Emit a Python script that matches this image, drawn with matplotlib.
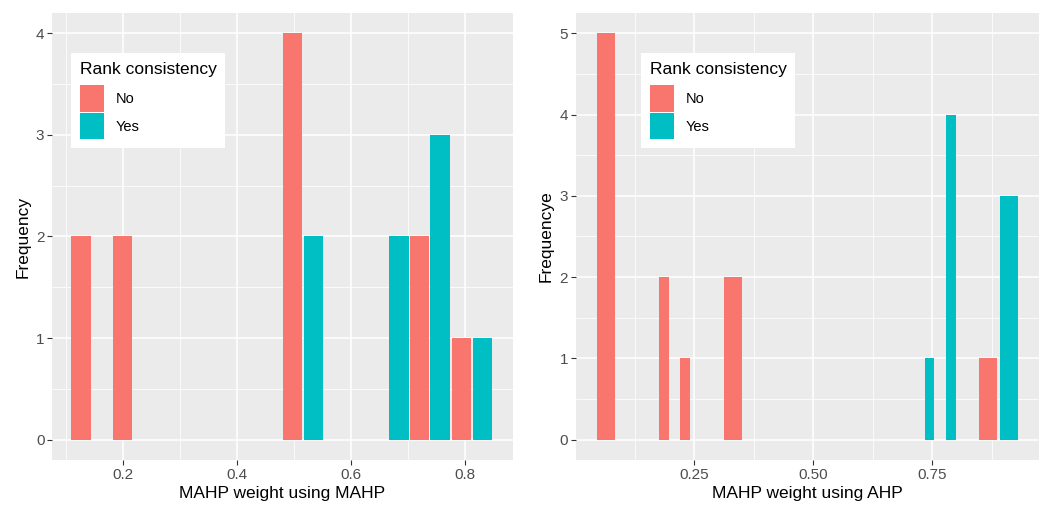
import matplotlib
matplotlib.use('Agg')
import matplotlib.pyplot as plt
from matplotlib.patches import Patch
from matplotlib.ticker import FixedLocator

plt.rcParams['font.family'] = ['Liberation Sans', 'DejaVu Sans']

# left panel: MAHP weight using MAHP
left_x = [0.127, 0.200, 0.498, 0.535, 0.685, 0.721, 0.757, 0.795, 0.831]
left_count = [2, 2, 4, 2, 2, 2, 3, 1, 1]
left_group = ['No', 'No', 'No', 'Yes', 'Yes', 'No', 'Yes', 'No', 'Yes']
left_width = [0.034] * 9

# right panel: MAHP weight using AHP
right_x = [0.064, 0.187, 0.231, 0.332, 0.744, 0.789, 0.867, 0.911]
right_count = [5, 2, 1, 2, 1, 4, 1, 3]
right_group = ['No', 'No', 'No', 'No', 'Yes', 'Yes', 'No', 'Yes']
right_width = [0.038, 0.020, 0.020, 0.038, 0.020, 0.021, 0.039, 0.039]

colors = {'No': '#F8766D', 'Yes': '#00BFC4'}


def gg_axes(ax, xlim, ylim, xmajor, xminor, ymax):
    ax.set_facecolor('#EBEBEB')
    for s in ax.spines.values():
        s.set_visible(False)
    ax.set_xlim(*xlim)
    ax.set_ylim(*ylim)
    ax.xaxis.set_major_locator(FixedLocator(xmajor))
    ax.xaxis.set_minor_locator(FixedLocator(xminor))
    ax.yaxis.set_major_locator(FixedLocator(list(range(0, ymax + 1))))
    ax.yaxis.set_minor_locator(FixedLocator([i + 0.5 for i in range(-1, ymax + 1)]))
    ax.grid(which='major', color='white', lw=1.1)
    ax.grid(which='minor', color='white', lw=0.55)
    ax.set_axisbelow(True)
    ax.tick_params(which='major', length=3.5, width=0.8, color='#333333',
                   labelcolor='#4D4D4D', labelsize=11, pad=2)
    ax.tick_params(which='minor', length=0)


fig = plt.figure(figsize=(10.53, 5.07), dpi=100)
ax1 = fig.add_axes([0.0494, 0.0927, 0.4378, 0.8817])
ax2 = fig.add_axes([0.5467, 0.0927, 0.4400, 0.8817])

gg_axes(ax1, (0.076, 0.885), (-0.2, 4.2), [0.2, 0.4, 0.6, 0.8], [0.1, 0.3, 0.5, 0.7], 4)
gg_axes(ax2, (0.001, 0.974), (-0.25, 5.25), [0.25, 0.5, 0.75], [0.125, 0.375, 0.625, 0.875], 5)
ax1.set_xticklabels(['0.2', '0.4', '0.6', '0.8'])
ax2.set_xticklabels(['0.25', '0.50', '0.75'])

ax1.bar(left_x, left_count, width=left_width, color=[colors[g] for g in left_group])
ax2.bar(right_x, right_count, width=right_width, color=[colors[g] for g in right_group])

ax1.set_xlabel('MAHP weight using MAHP', fontsize=12.5, labelpad=3)
ax1.set_ylabel('Frequency', fontsize=12.5, labelpad=4)
ax2.set_xlabel('MAHP weight using AHP', fontsize=12.5, labelpad=3)
ax2.set_ylabel('Frequencye', fontsize=12.5, labelpad=4)

handles = [Patch(facecolor=colors[k], edgecolor='none', label=k) for k in ['No', 'Yes']]
for ax, anchor in [(ax1, (0.041, 0.910)), (ax2, (0.141, 0.910))]:
    leg = ax.legend(handles=handles, title='Rank consistency', loc='upper left',
                    bbox_to_anchor=anchor, borderaxespad=0, frameon=True,
                    fancybox=False, edgecolor='none', facecolor='white', framealpha=1,
                    fontsize=10.5, title_fontsize=12.5, handlelength=1.65,
                    handleheight=2.4, handletextpad=0.8, labelspacing=0.1,
                    borderpad=0.6)
    leg._legend_box.align = 'left'
    leg._legend_box.sep = 6

fig.savefig('out.png', dpi=100)
